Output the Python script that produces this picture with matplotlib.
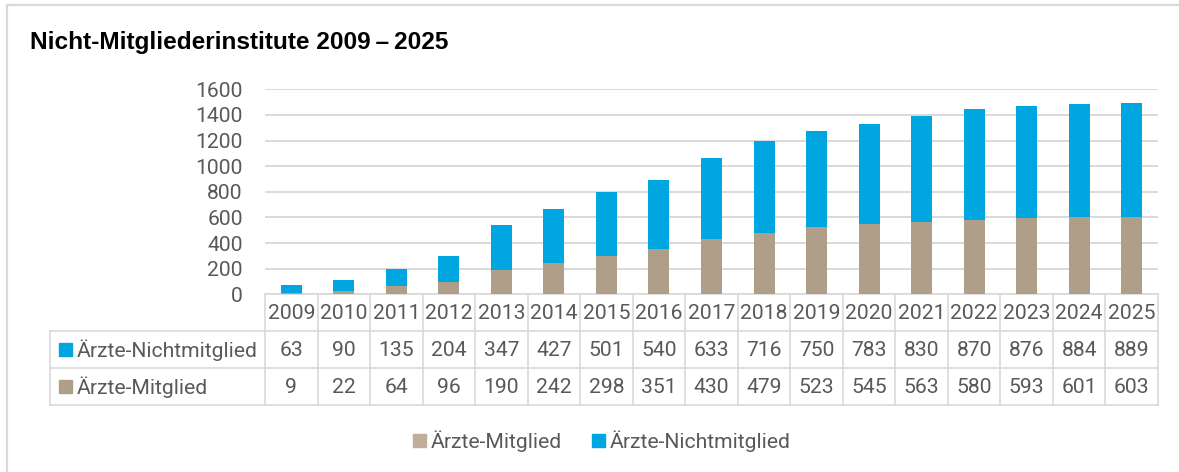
import matplotlib
matplotlib.use("Agg")
import matplotlib.pyplot as plt
import matplotlib.transforms as mtransforms
from matplotlib.lines import Line2D
from matplotlib.patches import Rectangle
import numpy as np

# ---- data ----
years = ["2009", "2010", "2011", "2012", "2013", "2014", "2015", "2016", "2017",
         "2018", "2019", "2020", "2021", "2022", "2023", "2024", "2025"]
nichtmitglied = [63, 90, 135, 204, 347, 427, 501, 540, 633, 716, 750, 783, 830, 870, 876, 884, 889]
mitglied = [9, 22, 64, 96, 190, 242, 298, 351, 430, 479, 523, 545, 563, 580, 593, 601, 603]
yticks = [0, 200, 400, 600, 800, 1000, 1200, 1400, 1600]
title = "Nicht-Mitgliederinstitute 2009\u2009\u2013\u20092025"
label_nicht = "Ärzte-Nichtmitglied"
label_mit = "Ärzte-Mitglied"

# ---- style ----
W, H = 1179, 472
BLUE = "#00A6E0"
TAN = "#AF9F88"
GRID = "#D9D9D9"
TXT = "#595959"
FONT = "Roboto"
FS = 15.2

fig = plt.figure(figsize=(W / 100, H / 100), dpi=100)

def fx(x):
    return x / W

def fy(y):
    return 1 - y / H

# overlay in pixel coordinates
ov = fig.add_axes([0, 0, 1, 1], zorder=0)
ov.set_xlim(0, W)
ov.set_ylim(H, 0)
ov.axis("off")

# frame (top and left visible)
ov.add_line(Line2D([7, W], [5, 5], color=GRID, lw=1.6))
ov.add_line(Line2D([7, 7], [5, H], color=GRID, lw=1.6))

# main axes
ax_l, ax_r, ax_t, ax_b = 265, 1158, 89.3, 294.3
ax = fig.add_axes([fx(ax_l), fy(ax_b), (ax_r - ax_l) / W, (ax_b - ax_t) / H], zorder=1)
ax.patch.set_alpha(0)
x = np.arange(len(years))
ax.bar(x, mitglied, width=0.4, color=TAN, zorder=3)
ax.bar(x, nichtmitglied, width=0.4, bottom=mitglied, color=BLUE, zorder=3)
ax.set_xlim(-0.5, len(years) - 0.5)
ax.set_ylim(0, 1600)
ax.set_yticks(yticks)
ax.set_yticklabels([str(v) for v in yticks], fontfamily=FONT, fontsize=FS, color=TXT)
ax.tick_params(axis="y", length=0, pad=16)
ax.set_xticks([])
ax.yaxis.grid(True, color=GRID, lw=1.4, zorder=0)
ax.set_axisbelow(True)
for s in ax.spines.values():
    s.set_visible(False)

# title
ov.text(30, 42, title, fontfamily="Liberation Sans", fontweight="bold", fontsize=17.6,
        color="black", ha="left", va="center")

# ---- data table ----
trans = mtransforms.blended_transform_factory(ax.transData, ov.transData)
row_y = [294, 331, 368, 404.5]
tab_left = 50
lw_t = 1.2
n = len(years)
# vertical column lines
for i in range(n + 1):
    ov.add_line(Line2D([i - 0.5, i - 0.5], [row_y[0], row_y[3]], color=GRID, lw=lw_t,
                       transform=trans))
# left border of label column
ov.add_line(Line2D([tab_left, tab_left], [row_y[1], row_y[3]], color=GRID, lw=lw_t))
# horizontal lines
ov.add_line(Line2D([-0.5, n - 0.5], [row_y[0], row_y[0]], color=GRID, lw=lw_t, transform=trans))
for yy in row_y[1:]:
    ov.add_line(Line2D([tab_left, ax_r], [yy, yy], color=GRID, lw=lw_t))

# cell texts
for i in range(n):
    ov.text(i, (row_y[0] + row_y[1]) / 2 + 1, years[i], transform=trans, ha="center", va="center",
            fontfamily=FONT, fontsize=FS, color=TXT)
    ov.text(i, (row_y[1] + row_y[2]) / 2 + 1, str(nichtmitglied[i]), transform=trans, ha="center",
            va="center", fontfamily=FONT, fontsize=FS, color=TXT)
    ov.text(i, (row_y[2] + row_y[3]) / 2 + 1, str(mitglied[i]), transform=trans, ha="center",
            va="center", fontfamily=FONT, fontsize=FS, color=TXT)

# row labels with keys
for (yc, col, lab) in [((row_y[1] + row_y[2]) / 2, BLUE, label_nicht),
                       ((row_y[2] + row_y[3]) / 2, TAN, label_mit)]:
    ov.add_patch(Rectangle((59, yc - 6.5), 13, 13, color=col))
    ov.text(77, yc + 1, lab, ha="left", va="center", fontfamily=FONT, fontsize=FS, color=TXT)

# ---- bottom legend ----
ly = 440
ov.add_patch(Rectangle((413, ly - 6.5), 13, 13, color="#BFAF99"))
ov.text(431, ly + 1, label_mit, ha="left", va="center", fontfamily=FONT, fontsize=FS, color=TXT)
ov.add_patch(Rectangle((592, ly - 6.5), 13, 13, color=BLUE))
ov.text(610, ly + 1, label_nicht, ha="left", va="center", fontfamily=FONT, fontsize=FS, color=TXT)

fig.savefig("out.png", dpi=100)
